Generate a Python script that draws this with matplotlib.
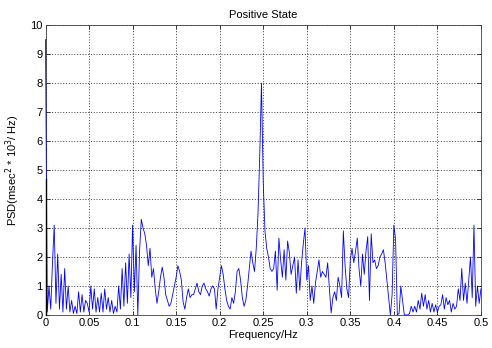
import numpy as np
import matplotlib
matplotlib.use("Agg")
import matplotlib.pyplot as plt

# PSD values, one every 0.002 Hz from 0 to 0.5 Hz
psd = [
    9.5, 0.1, 1.0, 0.2, 1.8, 3.1, 0.4, 2.1, 0.2, 1.4,
    0.1, 1.6, 0.2, 1.0, 0.1, 0.5, 0.05, 0.3, 0.05, 0.8,
    0.1, 0.7, 0.1, 0.5, 0.4, 0.1, 1.0, 0.2, 0.9, 0.1,
    0.6, 0.1, 0.75, 0.1, 0.9, 0.2, 0.6, 0.1, 0.5, 0.05,
    0.3, 0.1, 1.0, 0.2, 1.6, 0.3, 1.8, 0.4, 2.1, 0.6,
    3.1, 0.8, 2.4, 0.0, 2.2, 3.3, 3.0, 2.8, 2.4, 1.7,
    2.3, 1.3, 1.6, 0.9, 0.4, 0.8, 1.3, 1.65, 1.3, 0.7,
    0.5, 0.3, 0.4, 0.7, 1.0, 1.3, 1.7, 1.5, 1.2, 0.45,
    0.2, 0.6, 0.9, 0.6, 0.7, 0.7, 0.9, 1.1, 0.8, 0.7,
    1.0, 1.1, 0.9, 0.8, 0.65, 0.9, 1.0, 0.9, 0.2, 0.9,
    1.3, 1.7, 1.4, 0.9, 0.5, 0.3, 0.2, 0.6, 0.4, 0.8,
    1.5, 1.6, 1.2, 0.6, 0.3, 0.5, 1.0, 1.6, 2.2, 1.8,
    1.5, 2.3, 3.5, 5.5, 8.0, 4.6, 2.9, 2.3, 2.0, 1.6,
    1.5, 1.6, 2.2, 0.85, 2.65, 1.9, 1.3, 2.25, 1.2, 2.55,
    2.15, 1.4, 1.7, 2.0, 0.75, 1.9, 0.85, 1.8, 2.45, 3.0,
    1.2, 1.7, 0.5, 1.0, 0.4, 1.1, 1.5, 1.9, 1.3, 1.5,
    1.4, 1.3, 1.8, 0.9, 0.07, 0.6, 0.8, 0.5, 1.3, 1.0,
    0.6, 2.9, 1.7, 0.9, 0.6, 1.9, 2.3, 1.8, 2.2, 2.65,
    1.6, 1.0, 2.1, 1.4, 2.2, 2.7, 0.5, 2.8, 1.8, 1.9,
    1.6, 1.7, 2.0, 2.1, 2.25, 1.8, 1.2, 0.6, 0.0, 0.7,
    3.1, 2.6, 0.0, 0.05, 1.0, 0.5, 0.0, 0.0, 0.0, 0.05,
    0.3, 0.1, 0.3, 0.1, 0.5, 0.2, 0.75, 0.3, 0.7, 0.2,
    0.5, 0.1, 0.4, 0.1, 0.35, 0.1, 0.3, 0.35, 0.7, 0.2,
    0.6, 0.35, 0.5, 0.1, 0.4, 0.2, 0.3, 0.9, 0.5, 1.6,
    0.5, 1.1, 0.4, 1.2, 2.0, 0.6, 3.1, 0.3, 1.0, 0.4,
    0.9,
]
freq_step = 0.002
freq = np.arange(len(psd)) * freq_step

# dark stretch on the left edge, below the DC spike
dc_dark_top = 4.7

x_ticks = [0, 0.05, 0.1, 0.15, 0.2, 0.25, 0.3, 0.35, 0.4, 0.45, 0.5]
x_labels = ["0", "0.05", "0.1", "0.15", "0.2", "0.25", "0.3", "0.35", "0.4", "0.45", "0.5"]
y_ticks = list(range(0, 11))

plt.rcParams['font.family'] = ['Liberation Sans', 'DejaVu Sans']

fig = plt.figure(figsize=(4.92, 3.48), dpi=100)
ax = fig.add_axes([0.0925, 0.095, 0.885, 0.833])

ax.plot(freq, psd, color=(0, 0, 1), linewidth=0.6, zorder=3, clip_on=False)
ax.plot([0, 0], [0, dc_dark_top], color="black", linewidth=1.0, zorder=4, clip_on=False)

ax.set_xlim(0, 0.5)
ax.set_ylim(0, 10)
ax.set_xticks(x_ticks)
ax.set_xticklabels(x_labels)
ax.set_yticks(y_ticks)
ax.grid(True, color="black", linestyle=(0, (1.5, 2.5)), linewidth=0.5)
ax.tick_params(direction="in", top=True, right=True, labelsize=8, length=3, width=0.5, pad=2)
for s in ax.spines.values():
    s.set_linewidth(0.6)
    s.set_color("#404040")

ax.set_title("Positive State", fontsize=8, pad=5)
ax.set_xlabel("Frequency/Hz", fontsize=8, labelpad=2)
ax.set_ylabel("PSD(msec$^2$ * 10$^3$/ Hz)", fontsize=8, labelpad=6)

fig.savefig("out.png", dpi=100)
